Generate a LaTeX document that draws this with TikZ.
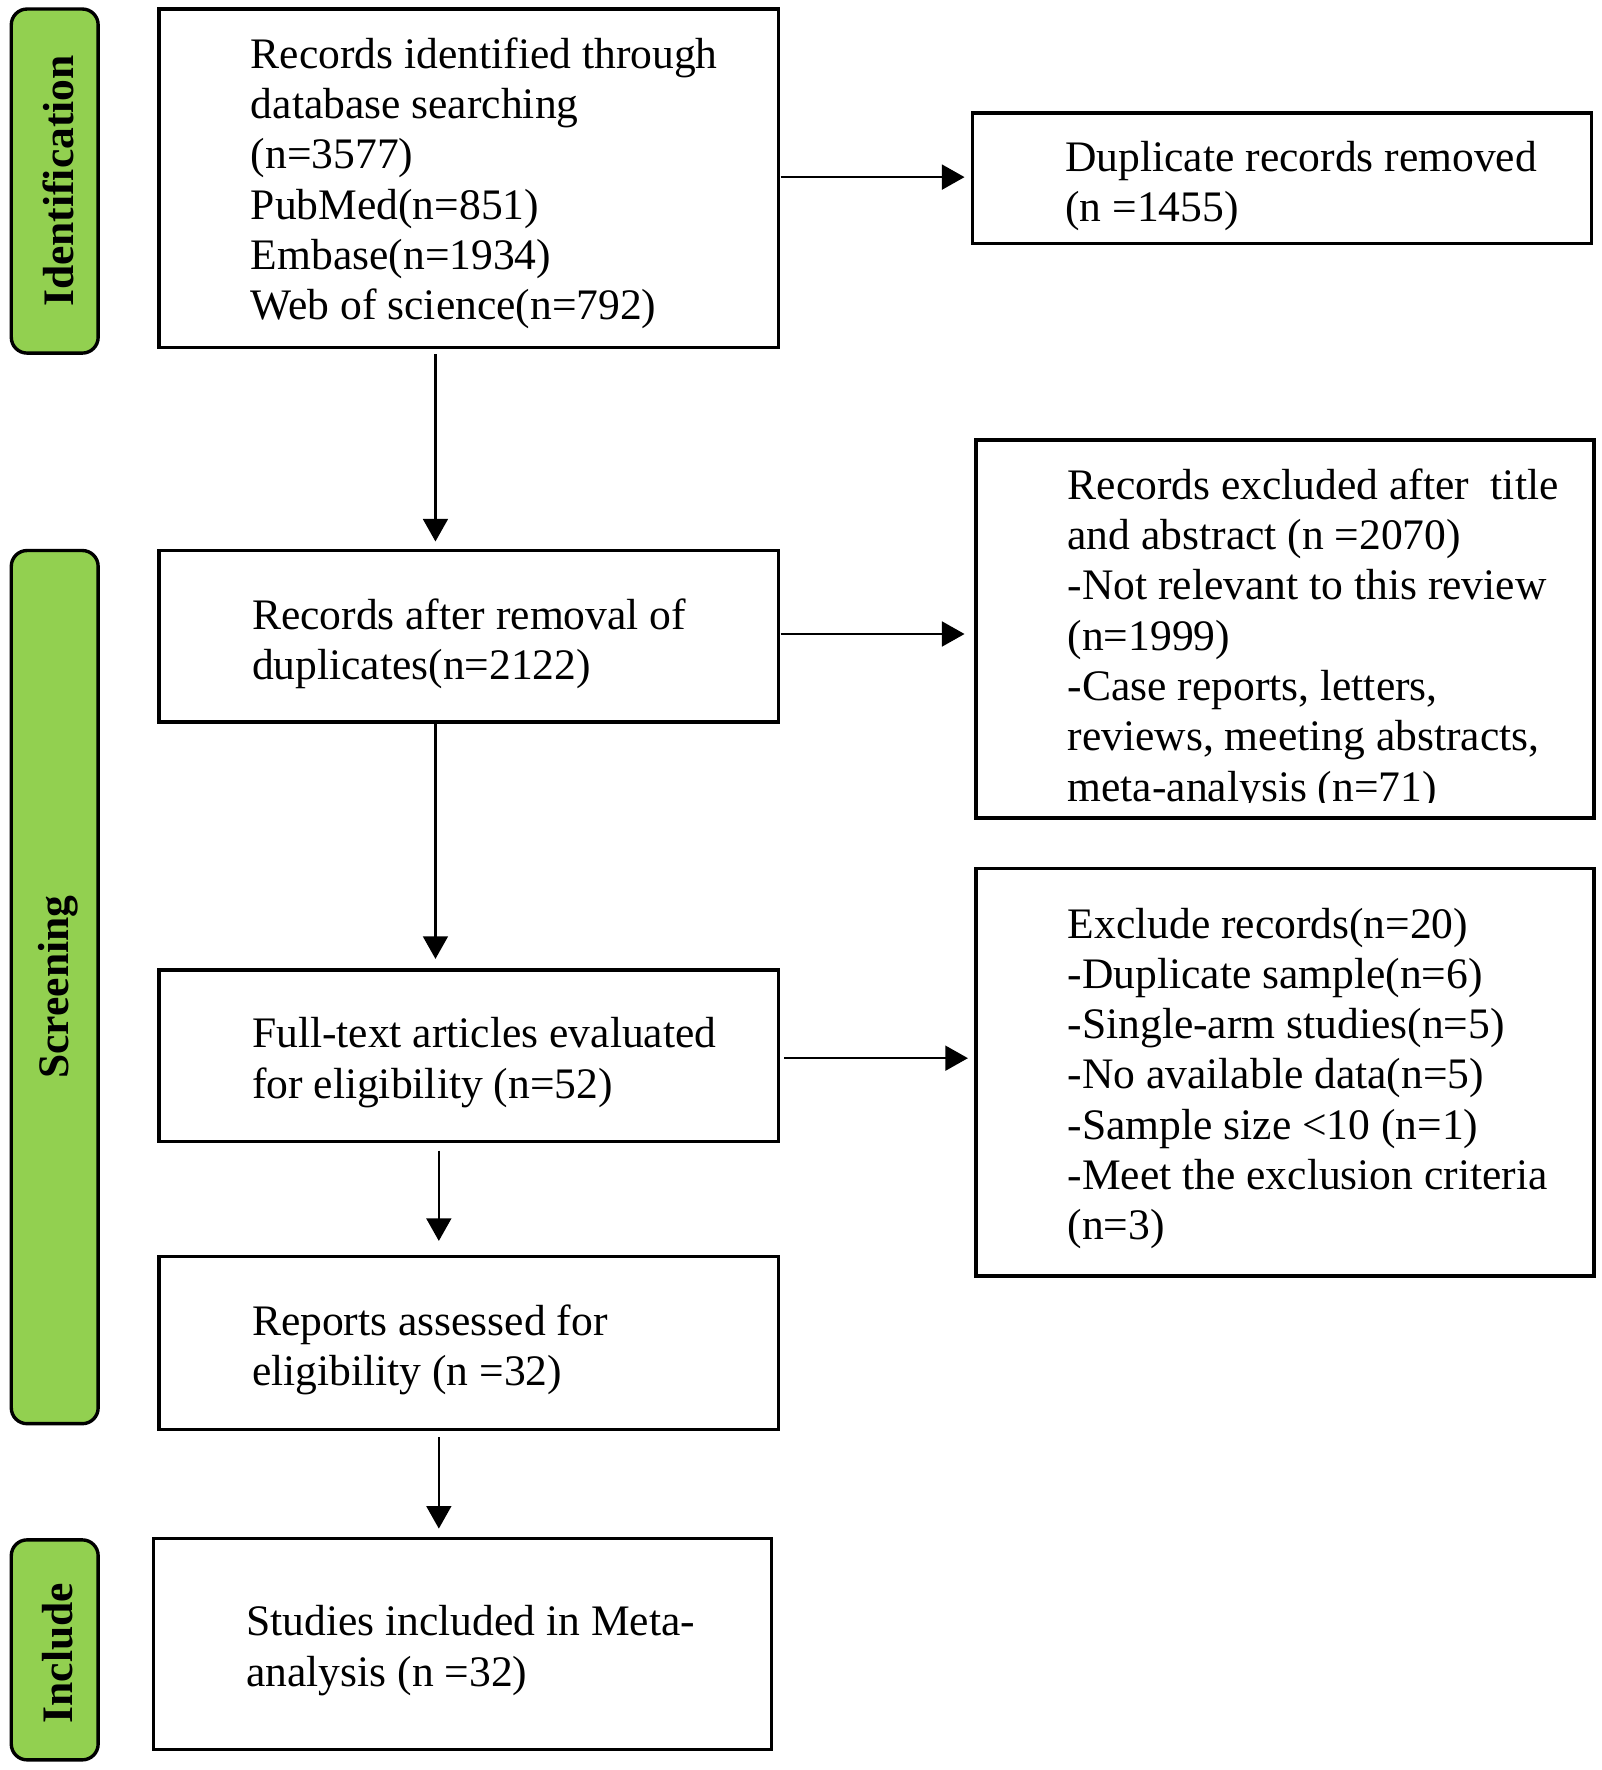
\documentclass[tikz,border=0pt]{standalone}
\usepackage{fontspec}
\setmainfont{Liberation Serif}
\usetikzlibrary{arrows.meta,calc}
\definecolor{tabgreen}{RGB}{146,208,80}
\begin{document}
\begin{tikzpicture}[x=0.5pt,y=-0.5pt,
  box/.style={draw=black,line width=1.5pt,fill=white,rectangle,inner sep=0pt,outer sep=0pt},
  tab/.style={draw=black,line width=1.5pt,fill=tabgreen,rectangle,rounded corners=7pt,inner sep=0pt,outer sep=0pt},
  tabtext/.style={rotate=90,font=\fontsize{19.3pt}{22.3pt}\selectfont\bfseries,inner sep=0pt},
  txt/.style={anchor=west,align=left,inner sep=0pt,font=\fontsize{19.3pt}{22.3pt}\selectfont},
  arr/.style={line width=1pt,-{Triangle[length=10pt,width=11pt]}}]
\useasboundingbox (0,0) rectangle (1420,1569);

% stage tabs
\node[tab,minimum width=38.5pt,minimum height=152.5pt] (t1) at (48.5,160.5) {};
\node[tab,minimum width=38.5pt,minimum height=387pt] (t2) at (48.5,875) {};
\node[tab,minimum width=38.5pt,minimum height=97.5pt] (t3) at (48.5,1462.5) {};
\node[tabtext] (t1t) at ($(t1.center)+(3,0)$) {Identification};
\node[tabtext] (t2t) at ($(t2.center)+(3,0)$) {Screening};
\node[tabtext] (t3t) at ($(t3.center)+(3,3)$) {Include};

% main boxes
\node[box,minimum width=274.5pt,minimum height=150pt] (b1) at (415.5,158) {};
\node[box,minimum width=274.5pt,minimum height=58pt] (dup) at (1136.5,158) {};
\node[box,minimum width=274.5pt,minimum height=76pt] (b2) at (415.5,564) {};
\node[box,minimum width=274pt,minimum height=167.5pt] (ex1) at (1139,557.5) {};
\node[box,minimum width=274.5pt,minimum height=76pt] (b3) at (415.5,936) {};
\node[box,minimum width=274pt,minimum height=180.5pt] (ex2) at (1139,950.5) {};
\node[box,minimum width=274.5pt,minimum height=76.5pt] (b4) at (415.5,1190.5) {};
\node[box,minimum width=274pt,minimum height=93.5pt] (b5) at (410,1457.5) {};

% texts
\node[txt] (b1t) at ($(b1.west)+(81,4.5)$) {Records identified through\\database searching\\(n=3577)\\PubMed(n=851)\\Embase(n=1934)\\Web of science(n=792)};
\node[txt] (dupt) at ($(dup.west)+(82,7)$) {Duplicate records removed\\(n =1455)};
\node[txt] (b2t) at ($(b2.west)+(82,6.5)$) {Records after removal of\\duplicates(n=2122)};
\begin{scope}
\clip (865,390) rectangle (1413,711);
\node[txt] (ex1t) at ($(ex1.west)+(81,9.5)$) {Records excluded after~ title\\and abstract (n =2070)\\-Not relevant to this review\\(n=1999)\\-Case reports, letters,\\reviews, meeting abstracts,\\meta-analysis (n=71)};
\end{scope}
\node[txt] (b3t) at ($(b3.west)+(82,6)$) {Full-text articles evaluated\\for eligibility (n=52)};
\node[txt] (ex2t) at ($(ex2.west)+(81,5.5)$) {Exclude records(n=20)\\-Duplicate sample(n=6)\\-Single-arm studies(n=5)\\-No available data(n=5)\\-Sample size <10 (n=1)\\-Meet the exclusion criteria\\(n=3)};
\node[txt] (b4t) at ($(b4.west)+(82,6)$) {Reports assessed for\\eligibility (n =32)};
\node[txt] (b5t) at ($(b5.west)+(82,5.5)$) {Studies included in Meta-\\analysis (n =32)};

% connectors
\draw[arr] ($(b1.south)+(-29.5,6)$) -- ($(b2.north)+(-29.5,-8)$);
\draw[arr] ($(b2.south)+(-29.5,0)$) -- ($(b3.north)+(-29.5,-10)$);
\draw[arr] ($(b3.south)+(-26.5,8)$) -- ($(b4.north)+(-26.5,-14)$);
\draw[arr] ($(b4.south)+(-26.5,7)$) -- ($(b5.north)+(-21,-9)$);
\draw[arr] ($(b1.east)+(2,-1)$) -- ($(dup.west)+(-7,-1)$);
\draw[arr] ($(b2.east)+(2,-2)$) -- ($(ex1.west)+(-10,4.5)$);
\draw[arr] ($(b3.east)+(5,2)$) -- ($(ex2.west)+(-7,-12.5)$);
\end{tikzpicture}
\end{document}
